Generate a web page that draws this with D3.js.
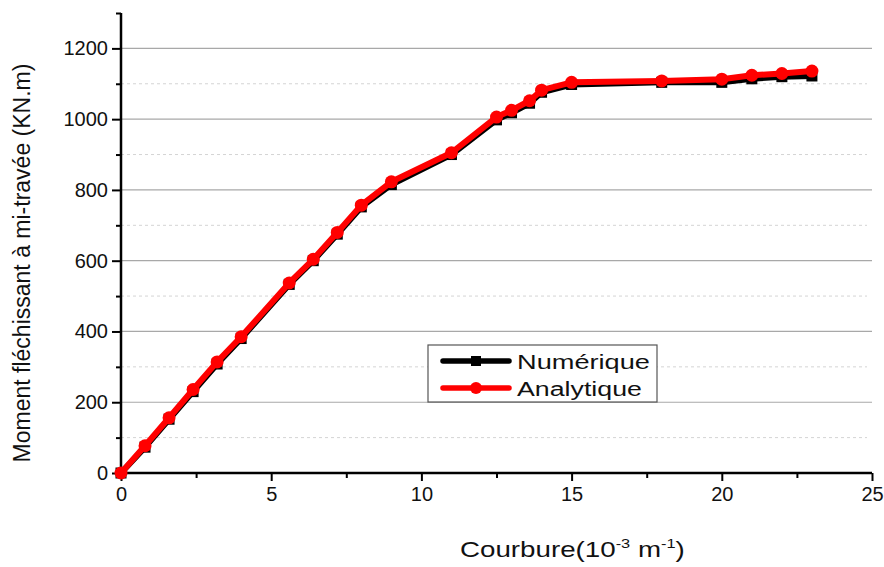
<!DOCTYPE html>
<html>
<head>
<meta charset="utf-8">
<script src="https://cdn.jsdelivr.net/npm/d3@7"></script>
<style>
  html, body { margin: 0; padding: 0; background: #fff; }
  svg { display: block; font-family: "Liberation Sans", Arial, sans-serif; }
</style>
</head>
<body>
<svg id="chart" width="884" height="567"></svg>
<script>
// ---- Data ----
const curvature = [0, 0.8, 1.6, 2.4, 3.2, 4.0, 5.6, 6.4, 7.2, 8.0, 9.0, 11.0, 12.5, 13.0, 13.6, 14.0, 15.0, 18.0, 20.0, 21.0, 22.0, 23.0];
const numerique = [0, 73, 152, 230, 308, 380, 533, 600, 675, 752, 815, 900, 998, 1018, 1045, 1076, 1098, 1104, 1104, 1114, 1120, 1122];
const analytique = [0, 77, 156, 236, 314, 385, 537, 604, 680, 757, 823, 905, 1006, 1025, 1052, 1082, 1104, 1108, 1113, 1124, 1129, 1136];
const seriesNames = ["Numérique", "Analytique"];
const xMajorTicks = [0, 5, 10, 15, 20, 25];
const xMinorTicks = [2.5, 7.5, 12.5, 17.5, 22.5];
const yMajorTicks = [0, 200, 400, 600, 800, 1000, 1200];
const yMinorTicks = [100, 300, 500, 700, 900, 1100, 1300];
const xTitle = "Courbure(10";
const yTitle = "Moment fléchissant à mi-travée (KN.m)";

// ---- Layout ----
const svg = d3.select("#chart");
const plotLeft = 121, plotRight = 872, plotTop = 13, plotBottom = 473;
const x = d3.scaleLinear().domain([0, 25]).range([plotLeft, plotRight]);
const y = d3.scaleLinear().domain([0, 1300]).range([plotBottom, plotTop]);

// Gridlines
svg.append("g").selectAll("line").data(yMinorTicks.filter(v => v < 1300)).join("line")
  .attr("x1", plotLeft).attr("x2", plotRight - 5)
  .attr("y1", d => y(d)).attr("y2", d => y(d))
  .attr("stroke", "#d4d4d4").attr("stroke-width", 1).attr("stroke-dasharray", "3,3");
svg.append("g").selectAll("line").data(yMajorTicks.filter(v => v > 0)).join("line")
  .attr("x1", plotLeft).attr("x2", plotRight)
  .attr("y1", d => y(d)).attr("y2", d => y(d))
  .attr("stroke", "#a8a8a8").attr("stroke-width", 1.2);

// Axes
const xAxis = svg.append("g").attr("transform", `translate(0,${plotBottom})`)
  .call(d3.axisBottom(x).tickValues(xMajorTicks).tickSize(8).tickPadding(6).tickFormat(d3.format("d")));
const xMinor = svg.append("g").attr("transform", `translate(0,${plotBottom})`)
  .call(d3.axisBottom(x).tickValues(xMinorTicks).tickSize(5).tickFormat(""));
const yAxis = svg.append("g").attr("transform", `translate(${plotLeft},0)`)
  .call(d3.axisLeft(y).tickValues(yMajorTicks).tickSize(9).tickPadding(4).tickFormat(d3.format("d")));
const yMinor = svg.append("g").attr("transform", `translate(${plotLeft},0)`)
  .call(d3.axisLeft(y).tickValues(yMinorTicks).tickSize(5).tickFormat(""));

[xAxis, xMinor, yAxis, yMinor].forEach(g => {
  g.select(".domain").attr("stroke", "#000").attr("stroke-width", 2.5);
  g.selectAll(".tick line").attr("stroke", "#000").attr("stroke-width", 2);
  g.selectAll(".tick text").attr("fill", "#111").style("font-size", "20px")
    .style("font-family", "'Liberation Sans', Arial, sans-serif");
});
xMinor.select(".domain").remove();
yMinor.select(".domain").remove();
xAxis.select(".domain").attr("d", `M${plotLeft},0H${plotRight}`);
yAxis.select(".domain").attr("d", `M0,${plotBottom}V${plotTop}`);

// Series
const line = d3.line().x(d => x(d[0])).y(d => y(d[1]));
const numData = curvature.map((c, i) => [c, numerique[i]]);
const anaData = curvature.map((c, i) => [c, analytique[i]]);

svg.append("path").datum(numData).attr("d", line)
  .attr("fill", "none").attr("stroke", "#000").attr("stroke-width", 6).attr("stroke-linejoin", "round");
svg.append("g").selectAll("rect").data(numData).join("rect")
  .attr("x", d => x(d[0]) - 5.5).attr("y", d => y(d[1]) - 5.5)
  .attr("width", 11).attr("height", 11).attr("fill", "#000");

svg.append("path").datum(anaData).attr("d", line)
  .attr("fill", "none").attr("stroke", "#ff0000").attr("stroke-width", 6).attr("stroke-linejoin", "round");
svg.append("g").selectAll("circle").data(anaData).join("circle")
  .attr("cx", d => x(d[0])).attr("cy", d => y(d[1])).attr("r", 6.5).attr("fill", "#ff0000");

// Legend
const lg = svg.append("g");
lg.append("rect").attr("x", 428).attr("y", 345).attr("width", 229).attr("height", 57)
  .attr("fill", "#fff").attr("stroke", "#555").attr("stroke-width", 1.2);
const legendItems = [
  { name: seriesNames[0], color: "#000", shape: "square", ly: 361, targetW: 133 },
  { name: seriesNames[1], color: "#ff0000", shape: "circle", ly: 388, targetW: 125 }
];
legendItems.forEach(it => {
  lg.append("line").attr("x1", 443).attr("x2", 509).attr("y1", it.ly).attr("y2", it.ly)
    .attr("stroke", it.color).attr("stroke-width", 5.5).attr("stroke-linecap", "round");
  if (it.shape === "square") {
    lg.append("rect").attr("x", 471).attr("y", it.ly - 5).attr("width", 10).attr("height", 10).attr("fill", it.color);
  } else {
    lg.append("circle").attr("cx", 476).attr("cy", it.ly).attr("r", 6).attr("fill", it.color);
  }
  const t = lg.append("text").attr("x", 0).attr("y", 0)
    .style("font-size", "21px").attr("fill", "#111").text(it.name);
  const w = t.node().getComputedTextLength();
  t.attr("transform", `translate(517,${it.ly + 7.5}) scale(${it.targetW / w},1)`);
});

// Axis titles
const xt = svg.append("text").style("font-size", "22px").attr("fill", "#111");
xt.append("tspan").text(xTitle);
xt.append("tspan").attr("dy", -9).style("font-size", "13px").text("-3");
xt.append("tspan").attr("dy", 9).text(" m");
xt.append("tspan").attr("dy", -9).style("font-size", "13px").text("-1");
xt.append("tspan").attr("dy", 9).text(")");
const xw = xt.node().getComputedTextLength();
const xs = 225 / xw;
xt.attr("transform", `translate(460,557) scale(${xs},1)`);

svg.append("text")
  .attr("transform", `translate(30,263) rotate(-90)`)
  .attr("text-anchor", "middle")
  .style("font-size", "23px").attr("fill", "#111")
  .text(yTitle);
</script>
</body>
</html>
